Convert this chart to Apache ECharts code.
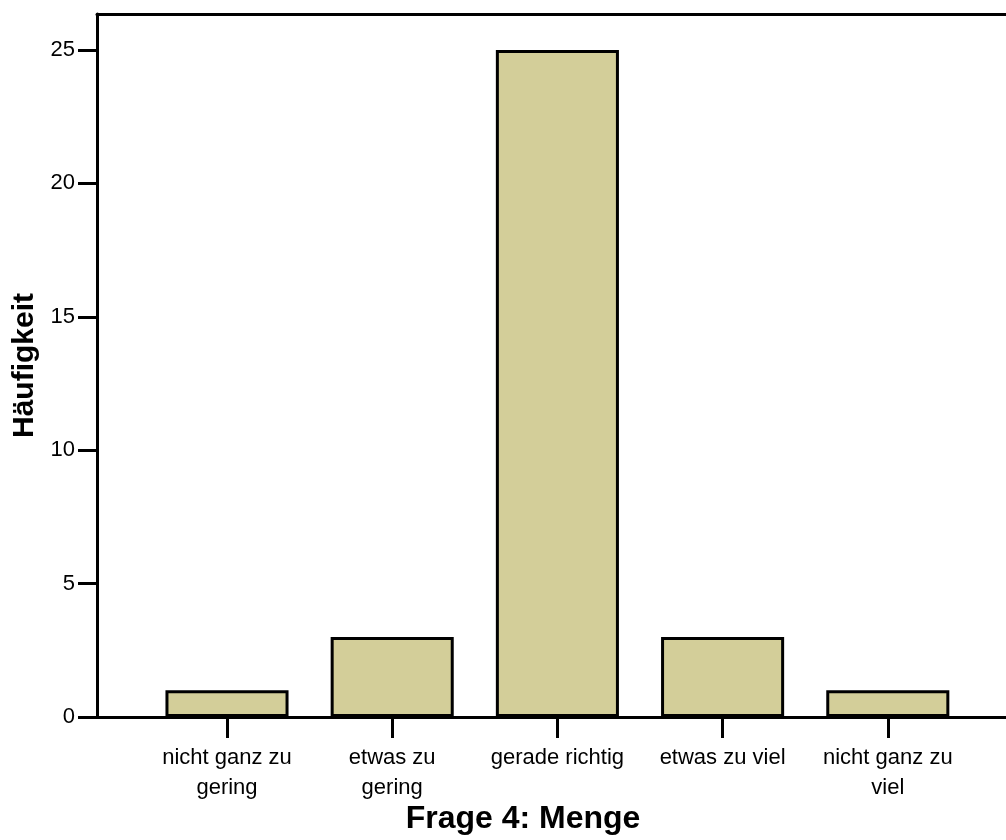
<!DOCTYPE html>
<html><head><meta charset="utf-8">
<script src="https://cdn.jsdelivr.net/npm/echarts@6/dist/echarts.min.js"></script>
<style>html,body{margin:0;padding:0;background:#fff}#c{width:1006px;height:840px}</style>
</head><body><div id="c"></div>
<script>
const categories = ['nicht ganz zu\ngering', 'etwas zu\ngering', 'gerade richtig', 'etwas zu viel', 'nicht ganz zu\nviel'];
const counts = [1, 3, 25, 3, 1];
const yMax = 26.35;
const yInterval = 5;
const xTitle = 'Frage 4: Menge';
const yTitle = 'Häufigkeit';

const font = '"Liberation Sans", Arial, sans-serif';
const chart = echarts.init(document.getElementById('c'), null, {renderer: 'canvas'});
chart.setOption({
  animation: false,
  backgroundColor: '#fff',
  title: {
    text: xTitle, left: 523, top: 803, textAlign: 'center', padding: 0,
    textStyle: {fontFamily: font, fontSize: 32, fontWeight: 'bold', color: '#000'}
  },
  grid: [
    {left: 97, top: 14, right: -20, bottom: 123, containLabel: false},
    {left: 144.4, top: 14, width: 826, bottom: 123, containLabel: false}
  ],
  xAxis: [
    {gridIndex: 0, type: 'value', min: 0, max: 1, position: 'bottom',
     axisLine: {show: true, onZero: false, lineStyle: {color: '#000', width: 3}},
     axisTick: {show: false}, axisLabel: {show: false}, splitLine: {show: false}},
    {gridIndex: 0, type: 'value', min: 0, max: 1, position: 'top',
     axisLine: {show: true, onZero: false, lineStyle: {color: '#000', width: 3}},
     axisTick: {show: false}, axisLabel: {show: false}, splitLine: {show: false}},
    {gridIndex: 1, type: 'category', data: categories, position: 'bottom',
     axisLine: {show: false},
     axisTick: {show: true, alignWithLabel: true, length: 21, lineStyle: {color: '#000', width: 3}},
     axisLabel: {fontFamily: font, fontSize: 22, lineHeight: 30, color: '#000', margin: 26, interval: 0},
     splitLine: {show: false}}
  ],
  yAxis: [
    {gridIndex: 0, type: 'value', min: 0, max: yMax, interval: yInterval,
     axisLine: {show: true, lineStyle: {color: '#000', width: 3}},
     axisTick: {show: true, length: 19, lineStyle: {color: '#000', width: 3}},
     axisLabel: {fontFamily: font, fontSize: 22, color: '#000', margin: 22,
       showMaxLabel: false},
     splitLine: {show: false},
     name: yTitle, nameLocation: 'middle', nameGap: 57, nameRotate: 90,
     nameTextStyle: {fontFamily: font, fontSize: 30, fontWeight: 'bold', color: '#000'}},
    {gridIndex: 1, type: 'value', min: 0, max: yMax, interval: yInterval, show: false}
  ],
  series: [{
    type: 'bar', xAxisIndex: 2, yAxisIndex: 1, data: counts, barWidth: '74.5%',
    itemStyle: {color: '#d3ce99', borderColor: '#000', borderWidth: 3}
  }]
});
</script></body></html>
